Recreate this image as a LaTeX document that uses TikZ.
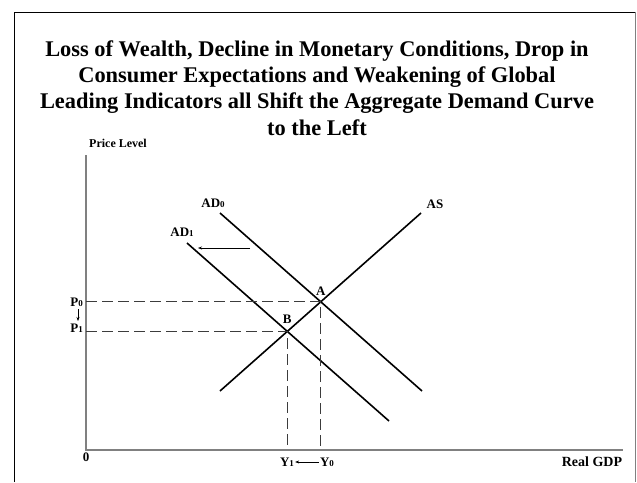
\documentclass[tikz,border=0pt]{standalone}
\usepackage{fontspec}
\setmainfont{Liberation Serif}
\usepackage{tikz}
\usetikzlibrary{arrows.meta,calc,positioning}
\definecolor{axisgray}{RGB}{128,128,128}
\definecolor{dashgray}{RGB}{60,60,60}
\tikzset{
  curve/.style={line width=1.6pt,black},
  axisline/.style={line width=1.5pt,axisgray},
  guide/.style={line width=0.8pt,dashgray,dash pattern=on 11pt off 5pt},
  lbl/.style={font=\bfseries\fontsize{13}{15}\selectfont,inner sep=1pt},
  shiftarrow/.style={-{Stealth[length=4pt,width=3pt]},line width=0.5pt}
}
\newcommand{\sub}[1]{{\fontsize{9}{10}\selectfont #1}}

\begin{document}
\begin{tikzpicture}[x=1pt,y=-1pt]
  \useasboundingbox (0,0) rectangle (637,482);
  % frame
  \draw[line width=0.9pt] (14,482)--(14,12)--(635,12);
  \draw[line width=0.9pt,axisgray] (635,12)--(635,482);
  \node[font=\bfseries\fontsize{22.4}{26.3}\selectfont,align=center] (title) at (317,88)
    {Loss of Wealth, Decline in Monetary Conditions, Drop in\\
     Consumer Expectations and Weakening of Global\\
     Leading Indicators all Shift the Aggregate Demand Curve\\
     to the Left};
  % axes
  \coordinate (O) at (86,450); \coordinate (ytop) at (86,155); \coordinate (xend) at (623,450);
  \draw[axisline] (ytop)--(O)--(xend);
  \node[lbl,font=\bfseries\fontsize{12}{14}\selectfont] (ylab) at (118,143) {Price Level};
  \node[lbl,font=\bfseries\fontsize{14}{16}\selectfont] (xlab) at (592,462) {Real GDP};
  \node[lbl] (zero) at (86,457) {0};
  % curves
  \coordinate (AS1) at (220,391); \coordinate (AS2) at (421,213);
  \coordinate (D0a) at (220,213); \coordinate (D0b) at (422,391);
  \coordinate (D1a) at (187,243); \coordinate (D1b) at (389,421);
  \draw[curve] (AS1)--(AS2); \draw[curve] (D0a)--(D0b); \draw[curve] (D1a)--(D1b);
  \node[lbl] (aslab) at (435,204) {AS};
  \node[lbl] (d0lab) at (213,203) {AD\sub{0}};
  \node[lbl] (d1lab) at (182,232) {AD\sub{1}};
  \coordinate (arrR) at (250,248); \coordinate (arrL) at (198,248);
  \draw[shiftarrow] (arrR)--(arrL);
  % equilibria
  \coordinate (A) at (intersection of AS1--AS2 and D0a--D0b);
  \coordinate (B) at (intersection of AS1--AS2 and D1a--D1b);
  \draw[guide] (O |- A)--(A)--(A |- O);
  \draw[guide] (O |- B)--(B)--(B |- O);
  \node[lbl,above=5pt of A] (alab) {A};
  \node[lbl,above=7pt of B] (blab) {B};
  % axis marks
  \node[lbl,anchor=east] (p0) at (84,302) {P\sub{0}};
  \node[lbl,anchor=east] (p1) at (84,328) {P\sub{1}};
  \draw[shiftarrow] (78,309)--(78,321);
  \node[lbl] (y1) at (287,462) {Y\sub{1}};
  \node[lbl] (y0) at (327,462) {Y\sub{0}};
  \draw[shiftarrow] (y0.west)--(y1.east);
\end{tikzpicture}
\end{document}
